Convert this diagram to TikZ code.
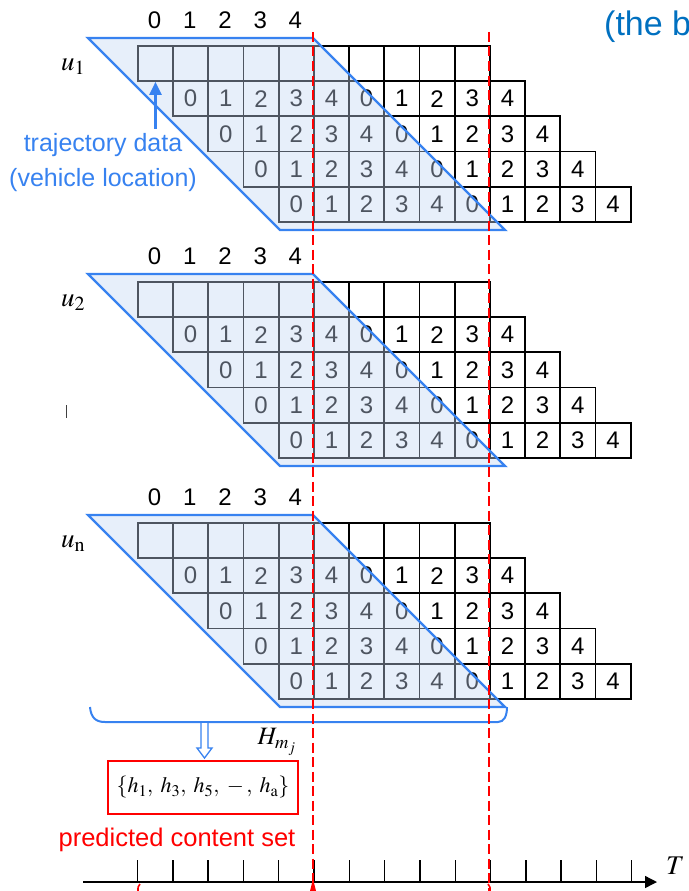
\documentclass[tikz,border=0pt]{standalone}
\usepackage{mathptmx}
\usepackage[no-math]{fontspec}
\setmainfont{Liberation Sans}
\usetikzlibrary{arrows.meta,calc}

\definecolor{lineblue}{RGB}{55,130,240}
\definecolor{panefill}{RGB}{196,214,242}
\definecolor{headblue}{RGB}{0,112,192}
\definecolor{markred}{RGB}{255,0,0}

\tikzset{
  cell/.style={draw=black, line width=1.7pt, minimum width=35.2pt, minimum height=35.2pt,
    inner sep=0pt, anchor=north west, font=\fontsize{24}{24}\selectfont},
  colhead/.style={inner sep=0pt, font=\fontsize{24}{24}\selectfont},
  pane/.style={fill=panefill, fill opacity=0.4},
  paneedge/.style={draw=lineblue, line width=2.4pt},
  userlab/.style={inner sep=0pt, font=\fontsize{27}{27}\selectfont},
  window/.style={draw=markred, line width=2.6pt, dash pattern=on 10pt off 4.5pt},
  bluetext/.style={text=lineblue, font=\fontsize{25}{35}\selectfont, align=center, inner sep=0pt},
  tickmark/.style={line width=1.4pt},
  mathlab/.style={inner sep=0pt, font=\fontsize{25}{25}\selectfont},
}

\begin{document}
\begin{tikzpicture}[x=1pt,y=-1pt]
\useasboundingbox (0,0) rectangle (688,891);

% three user blocks: header, staircase of slots, shaded window
\foreach \bk/\yy/\lab in {1/45/{u_1},2/281/{u_2},3/522/{u_{\mathrm{n}}}}{
  \foreach \kk in {0,...,4}
    \node[colhead] (hd\bk-\kk) at ({154.6+35.2*\kk},{\yy-25}) {\kk};
  \foreach \kk in {0,...,9}
    \node[cell] (c\bk-0-\kk) at ({137+35.2*\kk},\yy) {};
  \foreach \rr in {1,...,4}{
    \foreach \kk in {0,...,9}{
      \pgfmathtruncatemacro{\val}{mod(\kk,5)}
      \node[cell] (c\bk-\rr-\kk) at ({137+35.2*(\kk+\rr)},{\yy+35.2*\rr}) {\val};
    }
  }
  \path[pane] (88,{\yy-7}) -- (313,{\yy-7}) -- (505,{\yy+185}) -- (280,{\yy+185}) -- cycle;
  \draw[paneedge] (88,{\yy-7}) -- (313,{\yy-7}) -- (505,{\yy+185}) -- (280,{\yy+185}) -- cycle;
  \node[userlab] (u\bk) at (73,{\yy+22}) {$\lab$};
}

% annotation of the trajectory slots
\node[bluetext] (traj) at (103,163) {trajectory data\\(vehicle location)};
\draw[lineblue, line width=2.6pt, -{Triangle[length=13pt,width=12pt]}]
  ($(traj.north -| c1-0-0.south)+(0,-5)$) -- (c1-0-0.south);

% stray mark
\draw[line width=0.9pt, black!75] (66,405) -- (66,418);

% brace under the last block
\draw[lineblue, line width=2pt] (90,707) .. controls (91,718) and (96,722) .. (105,722)
  -- (498,722) .. controls (504,722) and (507,716) .. (507,707);
\coordinate (bm) at (204.5,722);

% predicted content set
\node[draw=markred, line width=2pt, minimum width=190pt, minimum height=53pt, inner sep=0pt,
  font=\fontsize{22}{22}\selectfont] (pset) at (203,787.5)
  {$\{h_1,\; h_3,\; h_5,\; -\,,\; h_{\mathrm{a}}\}$};
\coordinate (tip) at ($(pset.north)+(1.5,-2)$);
\draw[lineblue, line width=1.3pt, fill=white]
  ($(bm)+(-3.5,1)$) -- ($(bm)+(-3.5,26)$) -- ($(bm)+(-7.5,26)$) -- (tip)
  -- ($(bm)+(7.5,26)$) -- ($(bm)+(3.5,26)$) -- ($(bm)+(3.5,1)$);
\node[mathlab] (hm) at (277,742) {$H_{m_j}$};
\node[text=markred, inner sep=0pt, font=\fontsize{25.5}{25.5}\selectfont] (plab) at (177,840) {predicted content set};

% time axis
\coordinate (ax0) at (83,882);
\coordinate (ax1) at (657,882);
\draw[line width=1.4pt, -{Triangle[length=12pt,width=12pt]}] (ax0) -- (ax1);
\foreach \kk in {0,...,14}
  \draw[tickmark] ({137.5+35.3*\kk},882) -- ++(0,-22);
\node[mathlab, font=\fontsize{27}{27}\selectfont, anchor=west] (tlab) at (666,866) {$T$};

% prediction window boundaries
\coordinate (wa0) at (313,32);
\coordinate (wa1) at (313,891);
\coordinate (wb0) at (489,32);
\coordinate (wb1) at (489,891);
\draw[window] (wa0) -- (wa1);
\draw[window] (wb0) -- (wb1);
\draw[markred, line width=1.6pt] (140,884) .. controls (138,886) and (137.5,888) .. (138,891);
\fill[markred] (313,879) -- (316,891) -- (310,891) -- cycle;
\draw[markred, line width=1.6pt] (488,884) .. controls (490,886) and (490.5,888) .. (490,891);

% heading fragment
\node[anchor=base west, inner sep=0pt, text=headblue, font=\fontsize{34}{34}\selectfont] (cap) at (604,36) {(the b};
\end{tikzpicture}
\end{document}
